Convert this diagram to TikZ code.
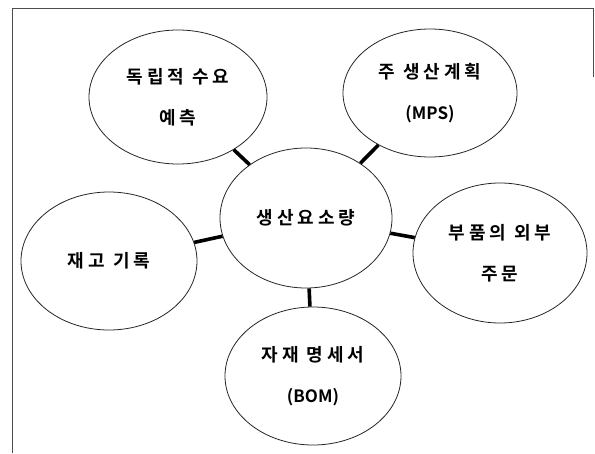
\documentclass[tikz,border=0pt]{standalone}
\usepackage{fontspec}
\usetikzlibrary{shapes.geometric}
\newfontfamily\krsp{Noto Sans CJK KR Bold}[LetterSpace=22]
\newfontfamily\krlat{Noto Sans CJK KR Bold}
\tikzset{
  bubble/.style={draw=black!85, line width=0.8pt, ellipse, inner sep=0pt,
    align=center, text=black,
    font=\krsp\fontsize{18}{41}\selectfont},
  link/.style={line width=3.6pt, black},
  frameline/.style={draw=black!70, line width=0.7pt}
}
\newcommand{\latpart}[1]{{\krlat\fontsize{17}{41}\selectfont #1}}
\begin{document}
\begin{tikzpicture}[x=1pt, y=-1pt]
\useasboundingbox (0,0) rectangle (595,453);
\fill[white] (0,0) rectangle (595,453);
% frame
\coordinate (f1) at (11,8);
\coordinate (f2) at (593,8);
\coordinate (f3) at (593,77);
\coordinate (f4) at (12,453);
\draw[frameline] (f4) -- (12,8) -- (f2) -- (f3);
% bubbles
\node[bubble, minimum width=172pt, minimum height=140pt] (C) at (306,218) {생산요소량};
\node[bubble, minimum width=178pt, minimum height=134pt] (TL) at (178,97) {독립적 수요\\예측};
\node[bubble, minimum width=174pt, minimum height=128pt] (TR) at (430,93) {주 생산계획\\\latpart{(MPS)}};
\node[bubble, minimum width=176pt, minimum height=138pt] (L) at (109,261) {재고 기록};
\node[bubble, minimum width=174pt, minimum height=140pt] (R) at (500,253) {부품의 외부\\주문};
\node[bubble, minimum width=176pt, minimum height=138pt] (B) at (313,376) {자재 명세서\\\latpart{(BOM)}};
% links
\draw[link] (C) -- (TL);
\draw[link] (C) -- (TR);
\draw[link] (C) -- (L);
\draw[link] (C) -- (R);
\draw[link] (C) -- (B);
\end{tikzpicture}
\end{document}
